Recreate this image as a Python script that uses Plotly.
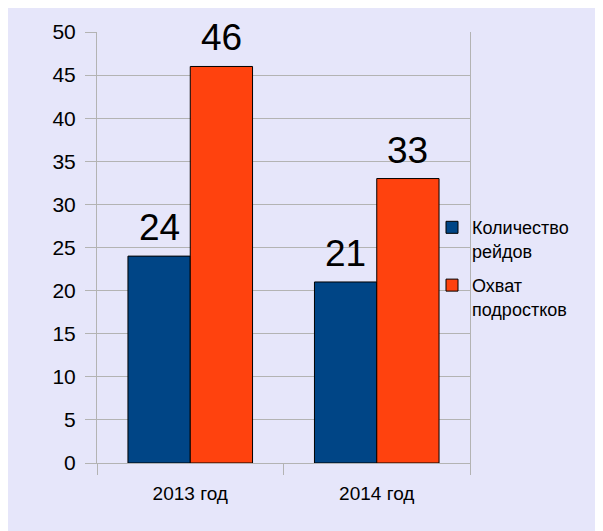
import plotly.graph_objects as go

categories = ["2013 год", "2014 год"]
series_names = ["Количество<br>рейдов", "Охват<br>подростков"]
raids = [24, 21]
teens = [46, 33]
y_ticks = [0, 5, 10, 15, 20, 25, 30, 35, 40, 45, 50]

colors = ["#004586", "#ff420e"]
FONT = "Liberation Sans, Arial, sans-serif"
BARGAP = 0.332

W, H = 603, 531
L, T = 89, 17
pw, ph = 373, 438
R, B = W - L - pw, H - T - ph

fig = go.Figure()
series = [raids, teens]
nser = len(series)
for k, (name, vals, c) in enumerate(zip(series_names, series, colors)):
    fig.add_trace(go.Bar(
        x=categories, y=vals, name=name, legendgroup=str(k),
        marker=dict(color=c, line=dict(color="#000000", width=1)),
    ))
    # value labels above bars, placed via the category axis index
    bw = (1 - BARGAP) / nser
    for j, v in enumerate(vals):
        fig.add_annotation(x=j - (1 - BARGAP) / 2 + bw * (k + 0.5), y=v,
                           xref="x", yref="y", text=str(v), showarrow=False,
                           yanchor="bottom", yshift=6,
                           font=dict(size=37, color="#000000", family=FONT))

def px_x(p):  # page pixel -> paper fraction (page has 8px body margin)
    return (p - 8 - L) / pw

def px_y(p):
    return (H + 8 - B - p) / ph

fig.update_layout(
    width=W, height=H,
    margin=dict(l=L, r=R, t=T, b=B),
    paper_bgcolor="#e6e6fa",
    plot_bgcolor="rgba(0,0,0,0)",
    barmode="group", bargap=BARGAP, bargroupgap=0,
    font=dict(family=FONT, color="#000000"),
    legend=dict(x=px_x(432), y=px_y(205), xanchor="left", yanchor="top",
                bgcolor="rgba(0,0,0,0)", font=dict(size=18, family=FONT),
                tracegroupgap=8, itemwidth=30, valign="top"),
    showlegend=True,
)
fig.update_yaxes(range=[0, 50], tickvals=y_ticks, showgrid=True,
                 gridcolor="#b3b3b3", gridwidth=1, showline=True,
                 linecolor="#b3b3b3", linewidth=1, mirror=True,
                 ticks="outside", ticklen=11, tickcolor="#b3b3b3",
                 ticklabelstandoff=5,
                 tickfont=dict(size=21, family=FONT), zeroline=False)
fig.update_xaxes(showgrid=False, showline=True, linecolor="#b3b3b3",
                 linewidth=1, ticks="outside", tickson="boundaries",
                 ticklen=11, tickcolor="#b3b3b3", ticklabelstandoff=13,
                 tickfont=dict(size=19, family=FONT))

fig.write_html("out.html")
